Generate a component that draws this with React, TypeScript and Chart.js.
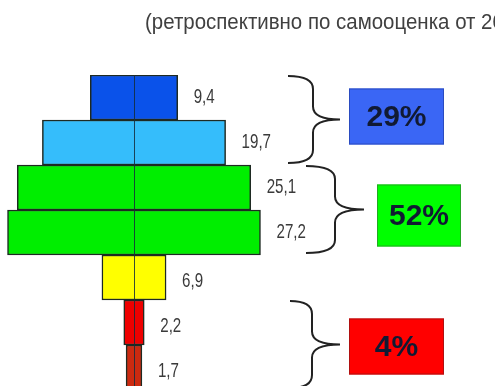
import React, { useEffect, useRef } from "react";
import { Chart, registerables } from "chart.js";

Chart.register(...registerables);

// ---- data ----
const categories = ["I", "II", "III", "IV", "V", "VI", "VII"];
const values = [9.4, 19.7, 25.1, 27.2, 6.9, 2.2, 1.7];
const barColors = ["#0a52ea", "#35bdfb", "#00ee00", "#00ee00", "#ffff00", "#ee0000", "#cc2a10"];
const groupRows = [
  [0, 1],
  [2, 3],
  [5, 6],
];
const groupLabels = ["29%", "52%", "4%"];
const titleText = "(ретроспективно по самооценка от 2008 г.)";

// ---- styles ----
const braceStyles = [
  { xl: 288, xv: 313, xt: 340, boxX: 349, boxW: 95, boxH: 56, dy: -3, fill: "#3a66f5", stroke: "#2a4bc0" },
  { xl: 306, xv: 335, xt: 364, boxX: 377, boxW: 84, boxH: 62, dy: 6, fill: "#00ff00", stroke: "#22aa22" },
  { xl: 290, xv: 312, xt: 340, boxX: 349, boxW: 95, boxH: 56, dy: 2, fill: "#ff0000", stroke: "#b01010" },
];

function drawBrace(ctx: CanvasRenderingContext2D, xl: number, yt: number, yb: number, xv: number, xt: number) {
  const ym = (yt + yb) / 2;
  const r = 13;
  ctx.beginPath();
  ctx.moveTo(xl, yt);
  ctx.quadraticCurveTo(xv, yt, xv, yt + r);
  ctx.lineTo(xv, ym - r);
  ctx.quadraticCurveTo(xv, ym, xt, ym);
  ctx.quadraticCurveTo(xv, ym, xv, ym + r);
  ctx.lineTo(xv, yb - r);
  ctx.quadraticCurveTo(xv, yb, xl, yb);
  ctx.stroke();
}

function narrowText(ctx: CanvasRenderingContext2D, text: string, x: number, y: number, sx: number) {
  ctx.save();
  ctx.translate(x, y);
  ctx.scale(sx, 1);
  ctx.fillText(text, 0, 0);
  ctx.restore();
}

const decorPlugin = {
  id: "decor",
  afterDatasetsDraw(chart: any) {
    const ctx: CanvasRenderingContext2D = chart.ctx;
    const xs = chart.scales.x;
    const ys = chart.scales.y;
    const area = chart.chartArea;
    const rowH = (area.bottom - area.top) / categories.length;
    ctx.save();

    // center line
    const cx = xs.getPixelForValue(0);
    ctx.strokeStyle = "rgba(20,45,60,0.85)";
    ctx.lineWidth = 1;
    ctx.beginPath();
    ctx.moveTo(Math.round(cx) + 0.5, area.top);
    ctx.lineTo(Math.round(cx) + 0.5, area.bottom);
    ctx.stroke();

    // value labels
    ctx.fillStyle = "#3a3a3a";
    ctx.font = '21px "Liberation Sans", Arial, sans-serif';
    ctx.textAlign = "left";
    ctx.textBaseline = "middle";
    values.forEach((v, i) => {
      const x = xs.getPixelForValue(v / 2) + 16;
      const y = ys.getPixelForValue(i) + (i >= 4 ? 4 : 0);
      narrowText(ctx, v.toString().replace(".", ","), x, y, 0.72);
    });

    // braces and boxes
    groupRows.forEach((rows, gi) => {
      const st = braceStyles[gi];
      const yt = ys.getPixelForValue(rows[0]) - rowH / 2 + 1;
      const yb = ys.getPixelForValue(rows[rows.length - 1]) + rowH / 2 - 2;
      ctx.strokeStyle = "#222";
      ctx.lineWidth = 2;
      drawBrace(ctx, st.xl, yt, yb, st.xv, st.xt);
      const ym = (yt + yb) / 2 + st.dy;
      const by = ym - st.boxH / 2;
      ctx.fillStyle = st.fill;
      ctx.fillRect(st.boxX, by, st.boxW, st.boxH);
      ctx.strokeStyle = st.stroke;
      ctx.lineWidth = 1;
      ctx.strokeRect(st.boxX + 0.5, by + 0.5, st.boxW - 1, st.boxH - 1);
      ctx.fillStyle = "#111a33";
      ctx.font = 'bold 30px "Liberation Sans", Arial, sans-serif';
      ctx.textAlign = "center";
      ctx.textBaseline = "middle";
      ctx.fillText(groupLabels[gi], st.boxX + st.boxW / 2, ym + 1);
    });

    // title (clipped at right edge like the reference)
    ctx.fillStyle = "#404040";
    ctx.font = '22px "Liberation Sans", Arial, sans-serif';
    ctx.textAlign = "left";
    ctx.textBaseline = "alphabetic";
    narrowText(ctx, titleText, 145, 29, 0.93);

    ctx.restore();
  },
};

export default function App() {
  const canvasRef = useRef<HTMLCanvasElement | null>(null);

  useEffect(() => {
    const canvas = canvasRef.current;
    if (!canvas) return;
    const pxPerUnit = 9.3;
    const center = 134;
    const chart = new Chart(canvas, {
      type: "bar",
      data: {
        labels: categories,
        datasets: [
          {
            data: values.map((v) => [-v / 2, v / 2]) as any,
            backgroundColor: barColors,
            borderColor: "#1e2a22",
            borderWidth: 1.5,
            borderSkipped: false,
            barPercentage: 1,
            categoryPercentage: 1,
          },
        ],
      },
      options: {
        indexAxis: "y",
        animation: false,
        responsive: false,
        devicePixelRatio: 1,
        layout: { padding: { top: 75, left: 0, right: 0, bottom: 0 } },
        plugins: {
          legend: { display: false },
          tooltip: { enabled: false },
          title: { display: false },
        },
        scales: {
          x: {
            display: false,
            min: -center / pxPerUnit,
            max: (495 - center) / pxPerUnit,
          },
          y: { display: false },
        },
      },
      plugins: [decorPlugin],
    });
    return () => chart.destroy();
  }, []);

  return (
    <div style={{ position: "absolute", left: 0, top: 0, width: 495, height: 390, background: "#fff", overflow: "hidden" }}>
      <canvas ref={canvasRef} width={495} height={390} style={{ display: "block", width: 495, height: 390 }} />
    </div>
  );
}
